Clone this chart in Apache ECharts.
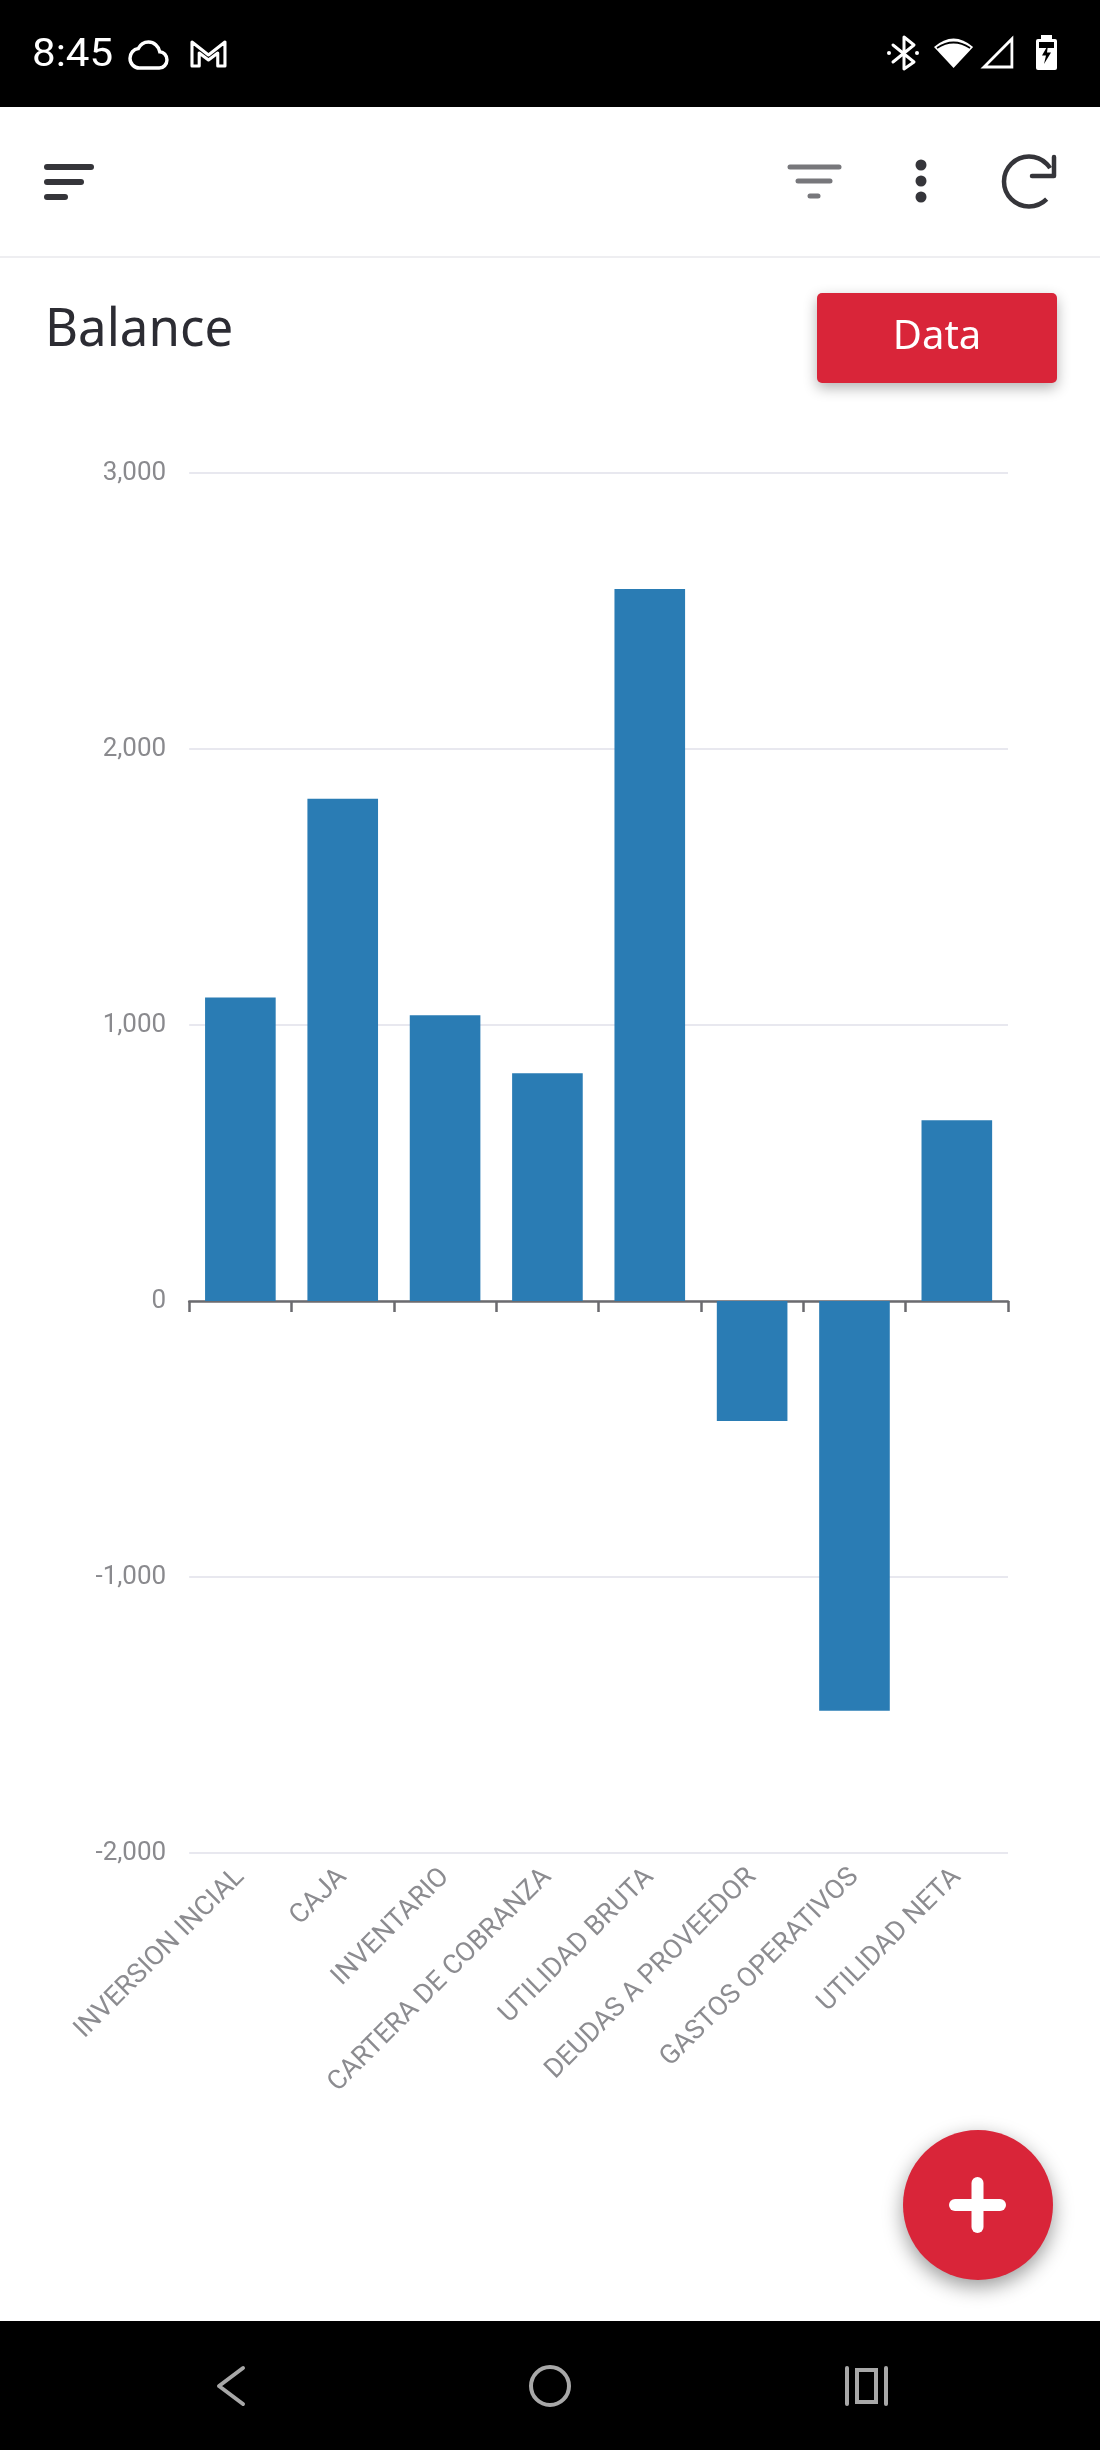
<!DOCTYPE html>
<html>
<head>
<meta charset="utf-8">
<title>Balance</title>
<style>
html, body { margin: 0; padding: 0; background: #fff; }
#div1 { width: 1100px; height: 2450px; }
</style>
<script src="https://cdn.jsdelivr.net/npm/echarts@6/dist/echarts.min.js"></script>
</head>
<body>
<div id="div1"></div>
<script>
// datos
var categories = ['INVERSION INCIAL', 'CAJA', 'INVENTARIO', 'CARTERA DE COBRANZA', 'UTILIDAD BRUTA', 'DEUDAS A PROVEEDOR', 'GASTOS OPERATIVOS', 'UTILIDAD NETA'];
var balanceValues = [1100, 1820, 1035, 825, 2580, -435, -1485, 655];
var yMin = -2000;
var yMax = 3000;
var yStep = 1000;

var RED = '#d92539';
var DARK = '#35353a';
var WHITE = '#ffffff';
var NAV = '#a8a8a8';

// iconos de la barra de estado
var iconPaths = {
    cloudIcon: 'M19.35 10.04C18.67 6.59 15.64 4 12 4 9.11 4 6.6 5.64 5.35 8.04 2.34 8.36 0 10.91 0 14c0 3.31 2.69 6 6 6h13c2.76 0 5-2.24 5-5 0-2.64-2.05-4.78-4.65-4.96z',
    mailIcon: 'M0 0L16 13 32 0V24H25V11L16 18 7 11V24H0Z',
    wifiIcon: 'M0 10Q19 -7 38 10L19 31Z',
    wifiSlit: 'M0 6Q19 -5 38 6',
    signalIcon: 'M0 28L30 0V28Z',
    boltIcon: 'M6 0L0 11H4L2 20 9 8H5Z'
};
for (var name in iconPaths) {
    echarts.graphic.registerShape(name, echarts.graphic.extendPath(iconPaths[name], {}));
}

function rect(x, y, w, h, fill, r, extra) {
    var style = { fill: fill };
    for (var k in (extra || {})) style[k] = extra[k];
    return { type: 'rect', silent: true, shape: { x: x, y: y, width: w, height: h, r: r || 0 }, style: style };
}
function line(x1, y1, x2, y2, color, w) {
    return { type: 'line', silent: true, shape: { x1: x1, y1: y1, x2: x2, y2: y2 }, style: { stroke: color, lineWidth: w, lineCap: 'round' } };
}
function poly(points, color, w) {
    return { type: 'polyline', silent: true, shape: { points: points }, style: { stroke: color, lineWidth: w, fill: 'none', lineJoin: 'round', lineCap: 'round' } };
}
function icon(name, x, y, sx, sy, style) {
    style.strokeNoScale = true;
    return { type: name, silent: true, x: x, y: y, scaleX: sx, scaleY: sy, style: style };
}
function label(text, x, y, size, family, color, align, sx) {
    return { type: 'text', silent: true, x: x, y: y, scaleX: sx || 1, style: { text: text, x: 0, y: 0, fontSize: size, fontFamily: family, fill: color, align: align || 'left', verticalAlign: 'middle' } };
}

function chrome() {
    return [
        // barras negras del telefono
        rect(0, 0, 1100, 107, '#000'),
        rect(0, 2321, 1100, 129, '#000'),
        rect(0, 256, 1100, 2, '#eeeef1'),
        // barra de estado
        label('8:45', 32, 56, 39, 'Roboto', WHITE, 'left', 1.08),
        icon('cloudIcon', 130, 35.5, 1.54, 1.625, { fill: 'none', stroke: WHITE, lineWidth: 3.5 }),
        icon('mailIcon', 192, 42, 1.03, 1, { fill: 'none', stroke: WHITE, lineWidth: 3, lineJoin: 'round' }),
        poly([[893, 45], [914, 62], [904, 69], [904, 37], [914, 45], [893, 62]], WHITE, 3),
        { type: 'circle', silent: true, shape: { cx: 889, cy: 53, r: 2 }, style: { fill: WHITE } },
        { type: 'circle', silent: true, shape: { cx: 917, cy: 53, r: 2 }, style: { fill: WHITE } },
        icon('wifiIcon', 934, 37, 1.03, 1, { fill: WHITE }),
        icon('wifiSlit', 937, 42, 0.87, 1, { fill: 'none', stroke: '#000', lineWidth: 2 }),
        icon('signalIcon', 984, 39, 0.93, 1, { fill: 'none', stroke: WHITE, lineWidth: 3 }),
        rect(1041, 35, 11, 5, WHITE),
        rect(1036, 39, 21, 31, WHITE, 2),
        rect(1039, 42, 15, 6, '#000'),
        icon('boltIcon', 1042, 45, 1, 0.95, { fill: '#000' }),
        // cabecera
        line(47, 167, 91, 167, DARK, 6),
        line(47, 182, 81, 182, DARK, 6),
        line(47, 197, 65, 197, DARK, 6),
        line(790, 167, 839, 167, '#77777b', 5),
        line(798, 181, 830, 181, '#77777b', 5),
        line(810, 196, 818, 196, '#77777b', 5),
        { type: 'circle', silent: true, shape: { cx: 921, cy: 165, r: 5.5 }, style: { fill: DARK } },
        { type: 'circle', silent: true, shape: { cx: 921, cy: 181, r: 5.5 }, style: { fill: DARK } },
        { type: 'circle', silent: true, shape: { cx: 921, cy: 197, r: 5.5 }, style: { fill: DARK } },
        { type: 'arc', silent: true, shape: { cx: 1029, cy: 181.5, r: 25, startAngle: Math.PI * 0.25, endAngle: Math.PI * 1.82, clockwise: true }, style: { stroke: DARK, lineWidth: 4.5, fill: 'none' } },
        poly([[1054, 157], [1054, 176], [1032, 176]], DARK, 4.5),
        // titulo y boton
        label('Balance', 45, 331, 52, '"Noto Sans"', '#2c2c33', 'left', 0.98),
        rect(817, 293, 240, 90, RED, 5, { shadowBlur: 14, shadowColor: 'rgba(0,0,0,0.3)', shadowOffsetY: 5 }),
        label('Data', 937, 338, 40, '"Noto Sans"', WHITE, 'center'),
        // boton flotante
        { type: 'circle', silent: true, shape: { cx: 978, cy: 2205, r: 75 }, style: { fill: RED, shadowBlur: 20, shadowColor: 'rgba(0,0,0,0.4)', shadowOffsetY: 7 } },
        line(955, 2205, 1000, 2205, WHITE, 12),
        line(977.5, 2183, 977.5, 2227, WHITE, 12),
        // barra de navegacion
        poly([[243, 2368], [219, 2386], [243, 2404]], NAV, 4),
        { type: 'circle', silent: true, shape: { cx: 550, cy: 2386, r: 19 }, style: { stroke: NAV, lineWidth: 4, fill: 'none' } },
        line(847, 2368, 847, 2404, NAV, 4),
        line(886, 2368, 886, 2404, NAV, 4),
        rect(857, 2370, 19, 32, 'none', 0, { stroke: NAV, lineWidth: 4 })
    ];
}

function echart1() {
    var myChart = echarts.init(document.getElementById('div1'), null, { renderer: 'canvas' });
    var option = {
        animation: false,
        backgroundColor: '#ffffff',
        grid: { left: 189.2, right: 92, top: 473, bottom: 597 },
        xAxis: [{
            // linea y marcas sobre el cero
            type: 'category',
            data: categories,
            position: 'bottom',
            axisLine: { onZero: true, lineStyle: { color: '#6b6b6f', width: 2.5 } },
            axisTick: { show: true, interval: 0, alignWithLabel: false, length: 11, lineStyle: { color: '#6b6b6f', width: 2.5 } },
            axisLabel: { show: false },
            splitLine: { show: false }
        }, {
            // etiquetas abajo de la grafica
            type: 'category',
            data: categories,
            position: 'bottom',
            axisLine: { show: false, onZero: false },
            axisTick: { show: false },
            splitLine: { show: false },
            axisLabel: { show: true, interval: 0, rotate: 45, margin: 20, fontSize: 27, fontFamily: 'Roboto', color: '#8c8c90' }
        }],
        yAxis: {
            type: 'value',
            min: yMin,
            max: yMax,
            interval: yStep,
            axisLine: { show: false },
            axisTick: { show: false },
            axisLabel: { margin: 23, fontSize: 26, fontFamily: 'Roboto', color: '#8a8a8e' },
            splitLine: { lineStyle: { color: '#e8e8ef', width: 2 } }
        },
        series: [{
            type: 'bar',
            data: balanceValues,
            barWidth: '69%',
            itemStyle: { color: '#2a7cb4' },
            silent: true
        }],
        graphic: { elements: chrome() }
    };
    myChart.setOption(option);
}
echart1();
</script>
</body>
</html>
